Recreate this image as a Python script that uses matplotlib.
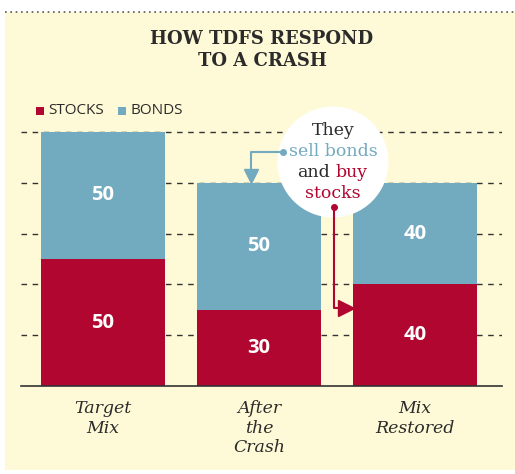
"""
How TDFs respond to a crash - stacked bars.
"""

import matplotlib
matplotlib.use("Agg")
import matplotlib.pyplot as plt
from matplotlib.patches import Rectangle, Ellipse

# data
categories = ["Target\nMix", "After\nthe\nCrash", "Mix\nRestored"]
stocks = [50, 30, 40]
bonds = [50, 50, 40]

STOCK_C = "#b0062f"
BOND_C = "#72aac0"
CREAM = "#fef9d6"
DARK = "#2b2b2b"

W, H = 515, 474
fig = plt.figure(figsize=(W / 100, H / 100), dpi=100)
fig.patch.set_facecolor("white")

# cream panel + dotted top rule
fig.add_artist(Rectangle((5 / W, 4 / H), 1 - 5 / W, (470 - 12) / H,
                         transform=fig.transFigure, facecolor=CREAM, edgecolor="none", zorder=0))
fig.add_artist(plt.Line2D([5 / W, 1], [1 - 12 / H, 1 - 12 / H], transform=fig.transFigure,
                          color="#555555", lw=1.2, ls=(0, (1, 2.2)), zorder=1))

# axes placed in pixels: y=0 at 386px, 2.54 px per unit
ytop = 104
ax = fig.add_axes([21 / W, (H - 386) / H, 481 / W, ytop * 2.54 / H])
ax.set_facecolor("none")
ax.set_xlim(-0.526, 2.558)
ax.set_ylim(0, ytop)

x = list(range(len(categories)))
bw = 0.79
ax.bar(x, stocks, width=bw, color=STOCK_C, zorder=2)
ax.bar(x, bonds, width=bw, bottom=stocks, color=BOND_C, zorder=2)

for i in x:
    ax.text(i, stocks[i] / 2, str(stocks[i]), ha="center", va="center", color="white",
            fontsize=14.5, fontweight="bold", family="Open Sans", zorder=3)
    ax.text(i, stocks[i] + bonds[i] / 2, str(bonds[i]), ha="center", va="center", color="white",
            fontsize=14.5, fontweight="bold", family="Open Sans", zorder=3)
    ax.text(i, -5.5, categories[i], ha="center", va="top", color=DARK, fontsize=12.5,
            style="italic", family="DejaVu Serif", linespacing=1.2, clip_on=False)

ax.set_yticks([20, 40, 60, 80, 100])
ax.set_xticks([])
ax.tick_params(left=False, labelleft=False)
ax.grid(axis="y", color="#333333", lw=1, ls=(0, (4, 4)), zorder=1)
for s in ["left", "right", "top"]:
    ax.spines[s].set_visible(False)
ax.spines["bottom"].set_color("#333333")
ax.spines["bottom"].set_linewidth(1.2)
ax.spines["bottom"].set_zorder(4)

# callout circle
ax.add_patch(Ellipse((1.474, 88.2), 111 / 156, 111 / 2.54, facecolor="white",
                     edgecolor="none", zorder=5, clip_on=False))
ax.text(1.474, 100.5, "They", ha="center", va="center", fontsize=12.5, color=DARK,
        family="DejaVu Serif", zorder=6, clip_on=False)
ax.text(1.474, 92.3, "sell bonds", ha="center", va="center", fontsize=12.5, color=BOND_C,
        family="DejaVu Serif", zorder=6, clip_on=False)
ax.text(1.455, 84.0, "and", ha="right", va="center", fontsize=12.5, color=DARK,
        family="DejaVu Serif", zorder=6, clip_on=False)
ax.text(1.49, 84.0, "buy", ha="left", va="center", fontsize=12.5, color=STOCK_C,
        family="DejaVu Serif", zorder=6, clip_on=False)
ax.text(1.474, 75.8, "stocks", ha="center", va="center", fontsize=12.5, color=STOCK_C,
        family="DejaVu Serif", zorder=6, clip_on=False)

# arrows
ax.plot([1.154, 0.949, 0.949], [92.1, 92.1, 84], color=BOND_C, lw=1.5, zorder=7, clip_on=False)
ax.plot([1.154], [92.1], "o", color=BOND_C, ms=4, zorder=7, clip_on=False)
ax.plot([0.949], [82.6], "v", color=BOND_C, ms=10, zorder=7, clip_on=False)

ax.plot([1.481, 1.481, 1.55], [70.5, 30.7, 30.7], color=STOCK_C, lw=1.5, zorder=7)
ax.plot([1.481], [70.5], "o", color=STOCK_C, ms=4, zorder=7)
ax.plot([1.56], [30.7], ">", color=STOCK_C, ms=11, zorder=7, clip_on=False)

# title
fig.text(262 / W, 1 - 50 / H, "HOW TDFS RESPOND\nTO A CRASH", ha="center", va="center",
         fontsize=13, fontweight="bold", family="DejaVu Serif", color=DARK, linespacing=1.3)

# legend
fig.add_artist(Rectangle((36 / W, 1 - 115 / H), 8 / W, 8 / H, transform=fig.transFigure,
                         facecolor=STOCK_C, edgecolor="none"))
fig.text(48 / W, 1 - 111 / H, "STOCKS", ha="left", va="center", fontsize=11,
         family="Open Sans", color=DARK)
fig.add_artist(Rectangle((118 / W, 1 - 115 / H), 8 / W, 8 / H, transform=fig.transFigure,
                         facecolor=BOND_C, edgecolor="none"))
fig.text(130 / W, 1 - 111 / H, "BONDS", ha="left", va="center", fontsize=11,
         family="Open Sans", color=DARK)

fig.savefig("out.png", dpi=100)
